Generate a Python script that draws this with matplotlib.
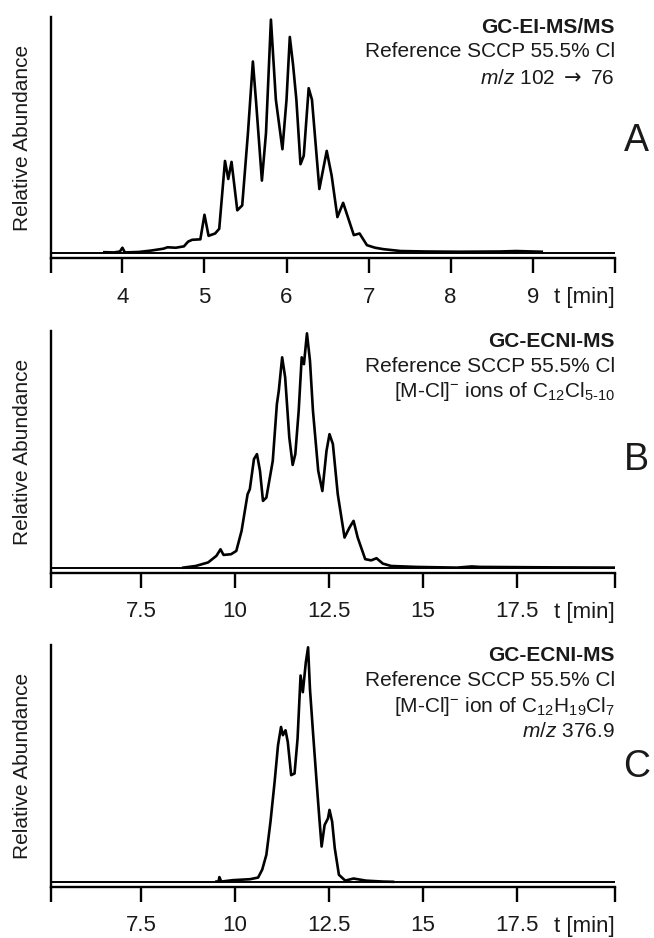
import matplotlib
matplotlib.use("Agg")
import matplotlib.pyplot as plt

plt.rcParams["font.family"] = ["Liberation Sans", "DejaVu Sans"]
plt.rcParams["mathtext.fontset"] = "custom"
plt.rcParams["mathtext.rm"] = "Liberation Sans"
plt.rcParams["mathtext.it"] = "Liberation Sans:italic"
plt.rcParams["mathtext.bf"] = "Liberation Sans:bold"
plt.rcParams["mathtext.sf"] = "DejaVu Sans"

TEXT = "#1a1a1a"

# --- panel A: GC-EI-MS/MS, m/z 102 -> 76
time_a = [3.78, 3.9, 3.97, 4.0, 4.03, 4.2, 4.35, 4.5, 4.55, 4.65, 4.75, 4.8,
          4.85, 4.95, 5.0, 5.05, 5.13, 5.18, 5.25, 5.29, 5.33, 5.4, 5.46, 5.53,
          5.59, 5.63, 5.7, 5.75, 5.81, 5.87, 5.95, 6.0, 6.04, 6.08, 6.12, 6.17,
          6.21, 6.27, 6.31, 6.4, 6.49, 6.55, 6.62, 6.69, 6.74, 6.82, 6.89, 6.98,
          7.08, 7.18, 7.39, 7.7, 8.1, 8.6, 8.8, 9.0, 9.11]
signal_a = [0.005, 0.004, 0.008, 0.024, 0.004, 0.006, 0.012, 0.02, 0.026, 0.024,
            0.03, 0.05, 0.058, 0.06, 0.165, 0.075, 0.085, 0.105, 0.395, 0.318,
            0.391, 0.184, 0.205, 0.515, 0.82, 0.643, 0.311, 0.515, 0.999, 0.657,
            0.445, 0.657, 0.925, 0.805, 0.657, 0.381, 0.417, 0.706, 0.657, 0.275,
            0.438, 0.332, 0.155, 0.216, 0.163, 0.078, 0.085, 0.035, 0.024, 0.018,
            0.01, 0.008, 0.007, 0.008, 0.01, 0.008, 0.007]

# --- panel B: GC-ECNI-MS, [M-Cl]- ions of C12Cl5-10
time_b = [8.62, 8.95, 9.28, 9.5, 9.61, 9.69, 9.89, 10.03, 10.17, 10.33, 10.39,
          10.5, 10.58, 10.66, 10.74, 10.83, 11.0, 11.11, 11.16, 11.25, 11.33,
          11.44, 11.53, 11.6, 11.69, 11.77, 11.83, 11.91, 11.99, 12.07, 12.21,
          12.32, 12.43, 12.51, 12.6, 12.73, 12.91, 13.04, 13.15, 13.26, 13.46,
          13.62, 13.76, 13.93, 14.15, 14.81, 15.9, 16.3, 16.5, 18.5, 20.1]
signal_b = [0.003, 0.01, 0.025, 0.053, 0.081, 0.057, 0.06, 0.074, 0.159, 0.315,
            0.337, 0.465, 0.486, 0.415, 0.287, 0.301, 0.457, 0.699, 0.755, 0.898,
            0.813, 0.557, 0.44, 0.486, 0.67, 0.898, 0.869, 1.0, 0.884, 0.67,
            0.415, 0.329, 0.5, 0.571, 0.529, 0.315, 0.131, 0.173, 0.202, 0.131,
            0.039, 0.034, 0.043, 0.02, 0.01, 0.006, 0.003, 0.008, 0.006, 0.004,
            0.003]

# --- panel C: GC-ECNI-MS, [M-Cl]- ion of C12H19Cl7, m/z 376.9
time_c = [9.5, 9.56, 9.58, 9.63, 9.94, 10.39, 10.61, 10.72, 10.83, 10.94, 11.05,
          11.14, 11.22, 11.27, 11.34, 11.4, 11.49, 11.58, 11.66, 11.74, 11.8,
          11.88, 11.94, 11.99, 12.07, 12.16, 12.24, 12.3, 12.38, 12.47, 12.51,
          12.58, 12.65, 12.76, 12.93, 13.15, 13.48, 13.93, 14.2]
signal_c = [0.003, 0.004, 0.022, 0.003, 0.009, 0.013, 0.02, 0.054, 0.117, 0.258,
            0.428, 0.583, 0.661, 0.626, 0.647, 0.597, 0.456, 0.463, 0.611, 0.88,
            0.809, 0.936, 1.0, 0.823, 0.64, 0.442, 0.272, 0.152, 0.244, 0.272,
            0.308, 0.258, 0.145, 0.032, 0.007, 0.016, 0.007, 0.003, 0.002]

ticks_a = [4, 5, 6, 7, 8, 9]
ticks_bc = [7.5, 10, 12.5, 15, 17.5]
labels_a = ["4", "5", "6", "7", "8", "9"]
labels_bc = ["7.5", "10", "12.5", "15", "17.5"]

notes_a = [r"GC-EI-MS/MS", r"Reference SCCP 55.5% Cl",
           r"$\mathit{m/z}$ 102 $\mathsf{\rightarrow}$ 76"]
notes_b = [r"GC-ECNI-MS", r"Reference SCCP 55.5% Cl",
           r"[M-Cl]$^{-}$ ions of C$_{12}$Cl$_{5\text{-}10}$"]
notes_c = [r"GC-ECNI-MS", r"Reference SCCP 55.5% Cl",
           r"[M-Cl]$^{-}$ ion of C$_{12}$H$_{19}$Cl$_{7}$",
           r"$\mathit{m/z}$ 376.9"]

panels = [
    dict(t=time_a, s=signal_a, xlim=(3.13, 10.0), ticks=ticks_a, labels=labels_a,
         notes=notes_a, letter="A", rect=[0.078, 0.7249, 0.862, 0.2569],
         note_y=[0.932, 0.833, 0.722], letter_y=0.485),
    dict(t=time_b, s=signal_b, xlim=(5.1, 20.1), ticks=ticks_bc, labels=labels_bc,
         notes=notes_b, letter="B", rect=[0.078, 0.3891, 0.862, 0.258],
         note_y=[0.935, 0.832, 0.727], letter_y=0.467),
    dict(t=time_c, s=signal_c, xlim=(5.1, 20.1), ticks=ticks_bc, labels=labels_bc,
         notes=notes_c, letter="C", rect=[0.078, 0.0544, 0.862, 0.258],
         note_y=[0.934, 0.831, 0.724, 0.618], letter_y=0.496),
]

fig = plt.figure(figsize=(6.54, 9.38), dpi=100)

for p in panels:
    ax = fig.add_axes(p["rect"])
    ax.axhline(0, color="black", lw=1.4, zorder=2)
    ax.plot(p["t"], p["s"], color="black", lw=1.9, zorder=3,
            solid_joinstyle="round")

    ax.set_xlim(*p["xlim"])
    ax.set_ylim(-0.02, 1.01)
    for side in ("top", "right"):
        ax.spines[side].set_visible(False)
    for side in ("left", "bottom"):
        ax.spines[side].set_linewidth(1.7)

    lo, hi = p["xlim"]
    ax.set_xticks([lo] + p["ticks"] + [hi])
    ax.set_xticklabels([""] + p["labels"] + [""])
    ax.tick_params(axis="x", direction="out", length=10.5, width=1.7,
                   labelsize=16, pad=10, colors="black", labelcolor=TEXT)
    ax.set_yticks([])

    ax.text(1.0, -0.165, "t [min]", transform=ax.transAxes, ha="right",
            va="center", fontsize=16, color=TEXT)
    ax.text(-0.051, 0.5, "Relative Abundance", transform=ax.transAxes,
            rotation=90, ha="center", va="center", fontsize=15, color=TEXT)
    ax.text(1.039, p["letter_y"], p["letter"], transform=ax.transAxes,
            ha="center", va="center", fontsize=27, color=TEXT)

    for i, (note, y) in enumerate(zip(p["notes"], p["note_y"])):
        ax.text(1.0, y, note, transform=ax.transAxes, ha="right",
                va="baseline", fontsize=15, color=TEXT,
                fontweight="bold" if i == 0 else "normal")

fig.savefig("out.png", dpi=100)
